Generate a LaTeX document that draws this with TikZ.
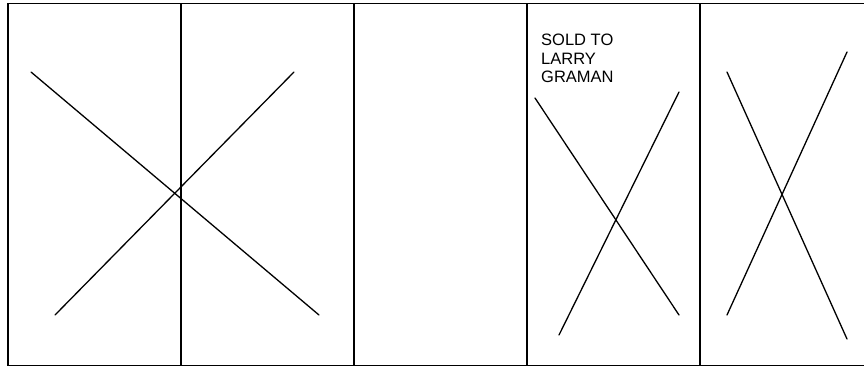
\documentclass[tikz,border=0pt]{standalone}
\usepackage{fontspec}
\setmainfont{Liberation Sans}
\usetikzlibrary{positioning}

\begin{document}
\begin{tikzpicture}[
    x=1pt, y=-1pt,
    frame/.style={draw, line width=1.6pt},
    divider/.style={line width=1.6pt},
    cross/.style={line width=1.3pt, line cap=round},
    note/.style={align=left, inner sep=0pt, font=\fontsize{16.5}{18.5}\selectfont}
  ]
    \useasboundingbox (0,0) rectangle (864,367);
    \draw[frame] (867,3.5) -- (8,3.5) -- (8,365.5) -- (867,365.5);
    \foreach \xd in {181,354,527,700}
      \draw[divider] (\xd,3.5) -- (\xd,365.5);
    % large cross over the first two panels
    \draw[cross] (31,72) -- (319,315);
    \draw[cross] (294,72) -- (55,315);
    % fourth panel
    \node[note, anchor=north west] (sold) at (541,34) {SOLD TO\\LARRY\\GRAMAN};
    \draw[cross] (535,98) -- (679,315);
    \draw[cross] (679,92) -- (559,335);
    % fifth panel
    \draw[cross] (727,72) -- (847,339);
    \draw[cross] (847,52) -- (727,315);
  \end{tikzpicture}
\end{document}
